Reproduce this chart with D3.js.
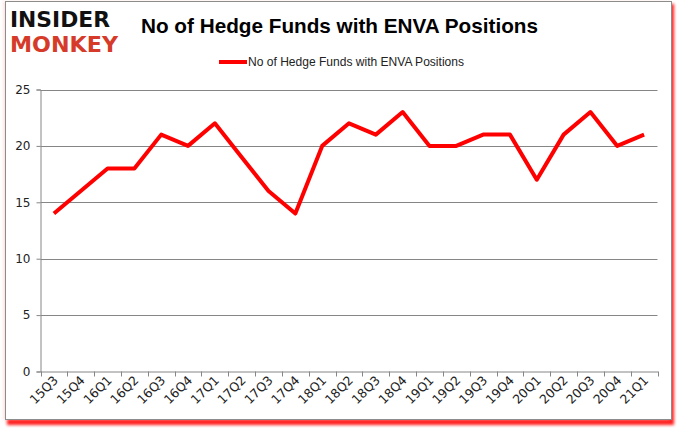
<!DOCTYPE html>
<html>
  <head>
    <meta charset="utf-8"/>
    <script src="https://cdnjs.cloudflare.com/ajax/libs/d3/7.8.5/d3.min.js"></script>
    <style type="text/css">

html, body {
  margin: 0;
  padding: 0;
  background: #fff;
}

svg text {
  font-family: "Liberation Sans", "DejaVu Sans", sans-serif;
}

    </style>
  </head>
  <body>
    <svg id="chart" width="678" height="431"></svg>
    <script type="text/javascript">

var quarters = ["15Q3", "15Q4", "16Q1", "16Q2", "16Q3", "16Q4", "17Q1", "17Q2",
                "17Q3", "17Q4", "18Q1", "18Q2", "18Q3", "18Q4", "19Q1", "19Q2",
                "19Q3", "19Q4", "20Q1", "20Q2", "20Q3", "20Q4", "21Q1"];
var funds = [14, 16, 18, 18, 21, 20, 22, 19, 16, 14, 20, 22, 21, 23, 20, 20,
             21, 21, 17, 21, 23, 20, 21];
var yTicks = [0, 5, 10, 15, 20, 25];
var seriesName = "No of Hedge Funds with ENVA Positions";
var title = "No of Hedge Funds with ENVA Positions";

var svg = d3.select("#chart");

// frame with the red drop shadow
var defs = svg.append("defs");
var f = defs.append("filter").attr("id", "shadow")
    .attr("x", "-5%").attr("y", "-5%").attr("width", "110%").attr("height", "110%");
f.append("feGaussianBlur").attr("stdDeviation", 1.5);

svg.append("rect")
    .attr("x", 7).attr("y", 4).attr("width", 667).attr("height", 421)
    .attr("fill", "#ff1a1a")
    .attr("filter", "url(#shadow)");
svg.append("rect")
    .attr("x", 3).attr("y", 1).attr("width", 667).attr("height", 419)
    .attr("fill", "#ffd6d6")
    .attr("filter", "url(#shadow)")
    .attr("opacity", 0.6);
svg.append("rect")
    .attr("x", 5.5).attr("y", 1.5).attr("width", 666).attr("height", 418)
    .attr("fill", "#fff")
    .attr("stroke", "#8c8c8c")
    .attr("stroke-width", 1);

// logo
svg.append("text")
    .attr("x", 10).attr("y", 27)
    .attr("textLength", 100).attr("lengthAdjust", "spacingAndGlyphs")
    .style("font-family", "'DejaVu Sans', sans-serif")
    .style("font-weight", "bold")
    .style("font-size", "21px")
    .attr("fill", "#111")
    .text("INSIDER");
svg.append("text")
    .attr("x", 10).attr("y", 52)
    .attr("textLength", 108).attr("lengthAdjust", "spacingAndGlyphs")
    .style("font-family", "'DejaVu Sans', sans-serif")
    .style("font-weight", "bold")
    .style("font-size", "21px")
    .attr("fill", "#d63b2a")
    .text("MONKEY");

// title
svg.append("text")
    .attr("x", 141).attr("y", 33)
    .attr("textLength", 397).attr("lengthAdjust", "spacingAndGlyphs")
    .style("font-weight", "bold")
    .style("font-size", "21px")
    .attr("fill", "#000")
    .text(title);

// legend
svg.append("line")
    .attr("x1", 219).attr("x2", 247).attr("y1", 62).attr("y2", 62)
    .attr("stroke", "#ff0000").attr("stroke-width", 4);
svg.append("text")
    .attr("x", 248).attr("y", 66)
    .attr("textLength", 216).attr("lengthAdjust", "spacingAndGlyphs")
    .style("font-size", "12px")
    .attr("fill", "#222")
    .text(seriesName);

// scales
var x = d3.scaleBand().domain(quarters).range([40.5, 657.5]);
var y = d3.scaleLinear().domain([0, 25]).range([371.5, 89.5]);

// gridlines
svg.append("g")
  .selectAll("line")
    .data(yTicks.filter(function(d) { return d > 0; }))
  .enter().append("line")
    .attr("x1", 40.5).attr("x2", 657.5)
    .attr("y1", function(d) { return Math.round(y(d)) + 0.5; })
    .attr("y2", function(d) { return Math.round(y(d)) + 0.5; })
    .attr("stroke", "#868686").attr("stroke-width", 1);

// y axis
var yAxis = svg.append("g")
    .attr("transform", "translate(40.5,0)")
    .call(d3.axisLeft(y).tickValues(yTicks).tickSize(4).tickPadding(6));
yAxis.select(".domain").attr("stroke", "#868686");
yAxis.selectAll(".tick line").attr("stroke", "#868686");
yAxis.selectAll("text")
    .style("font-size", "12px")
    .style("font-family", "'DejaVu Sans', sans-serif")
    .attr("fill", "#222");

// x axis
var xAxis = svg.append("g")
    .attr("transform", "translate(0,371.5)")
    .call(d3.axisBottom(x).tickSize(0).tickFormat(""));
xAxis.select(".domain").attr("stroke", "#868686");
xAxis.selectAll(".tick").remove();

// tick marks at band boundaries
var bounds = quarters.map(function(q) { return x(q); }).concat([x.range()[1]]);
xAxis.selectAll("line.bt")
    .data(bounds)
  .enter().append("line")
    .attr("class", "bt")
    .attr("x1", function(d) { return Math.round(d) + 0.5; })
    .attr("x2", function(d) { return Math.round(d) + 0.5; })
    .attr("y1", 0).attr("y2", 5)
    .attr("stroke", "#868686");

// rotated category labels
svg.append("g")
  .selectAll("text")
    .data(quarters)
  .enter().append("text")
    .attr("transform", function(d) {
      return "translate(" + (x(d) + x.bandwidth() / 2 + 5) + ",381) rotate(-45)";
    })
    .attr("text-anchor", "end")
    .style("font-size", "12.5px")
    .style("font-family", "'DejaVu Sans', sans-serif")
    .attr("fill", "#222")
    .text(function(d) { return d; });

// series line
var line = d3.line()
    .x(function(d, i) { return x(quarters[i]) + x.bandwidth() / 2; })
    .y(function(d) { return y(d); });

svg.append("path")
    .datum(funds)
    .attr("d", line)
    .attr("fill", "none")
    .attr("stroke", "#ff0000")
    .attr("stroke-width", 4)
    .attr("stroke-linejoin", "round");

    </script>
  </body>
</html>
